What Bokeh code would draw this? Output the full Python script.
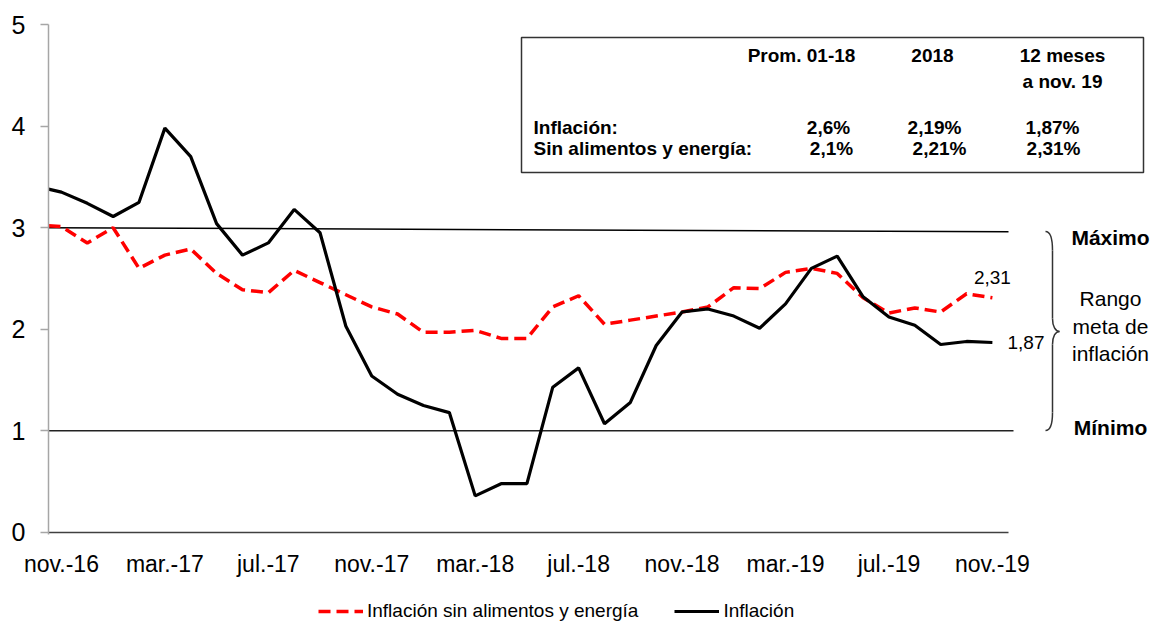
import numpy as np
from bokeh.plotting import figure
from bokeh.layouts import column
from bokeh.models import Range1d, FixedTicker, SingleIntervalTicker, Legend, LegendItem
from bokeh.core.properties import value
from bokeh.embed import file_html
from bokeh.resources import INLINE

# ---------------- data ----------------
tick_labels = ["nov.-16", "mar.-17", "jul.-17", "nov.-17", "mar.-18",
               "jul.-18", "nov.-18", "mar.-19", "jul.-19", "nov.-19"]
# month index: -0.5 is the half-step start of the series, 0 = nov.-16 ... 36 = nov.-19
inflacion = [3.38,
             3.35, 3.24,
             3.11, 3.25, 3.98, 3.70, 3.04, 2.73, 2.85, 3.18, 2.95, 2.03, 1.54, 1.36,
             1.25, 1.18, 0.36, 0.48, 0.48, 1.43, 1.62, 1.07, 1.28, 1.84, 2.17, 2.20,
             2.13, 2.01, 2.25, 2.60, 2.72, 2.32, 2.12, 2.04, 1.85, 1.88, 1.87]
sin_alim = [3.02,
            3.01, 2.85,
            3.00, 2.60, 2.73, 2.79, 2.55, 2.39, 2.36, 2.58, 2.46, 2.34, 2.22, 2.15,
            1.97, 1.97, 1.99, 1.91, 1.91, 2.22, 2.33, 2.05, 2.09, 2.13, 2.17, 2.22,
            2.41, 2.40, 2.56, 2.60, 2.55, 2.31, 2.16, 2.21, 2.17, 2.35, 2.31]
x_idx = [-0.5] + list(range(37))
rango_max = [3.0, 2.96]
rango_min = [1.0, 1.0]
serie_nombres = ["Inflación sin alimentos y energía", "Inflación"]

tabla_cols1 = ["Prom. 01-18", "2018", "12 meses"]
tabla_cols2 = ["", "", "a nov. 19"]
tabla_rows = ["Inflación:", "Sin alimentos y energía:"]
tabla_vals = [["2,6%", "2,19%", "1,87%"],
              ["2,1%", "2,21%", "2,31%"]]

# ---------------- geometry helpers (reference pixels -> data) ----------------
W = 1152
H_MAIN, H_LEG = 600, 23
FRAME_LEFT = 48
FRAME_TOP = 24
KY = 101.6
X_START = -0.5
KX = 25.86
X_END = X_START + (W - FRAME_LEFT) / KX
Y_START, Y_END = -0.02, 5.0
FRAME_BOTTOM = FRAME_TOP + (Y_END - Y_START) * KY


def dx(px):
    return X_START + (px - FRAME_LEFT) / KX


def dy(py):
    return Y_END - (py - FRAME_TOP) / KY


FONT = "Liberation Sans"
RED_STYLE = dict(line_color="#ff0000", line_width=3.5, line_dash="12 6")
BLK_STYLE = dict(line_color="black", line_width=3.2)

p = figure(width=W, height=H_MAIN, output_backend="svg", toolbar_location=None,
           x_range=Range1d(X_START, X_END), y_range=Range1d(Y_START, Y_END),
           min_border_left=FRAME_LEFT, min_border_top=FRAME_TOP, min_border_right=0,
           min_border_bottom=int(round(H_MAIN - FRAME_BOTTOM)),
           background_fill_color="white", border_fill_color="white")
p.outline_line_color = None
p.xgrid.visible = False
p.ygrid.visible = False

# y axis
p.yaxis.ticker = SingleIntervalTicker(interval=1)
p.yaxis.axis_line_color = "#a6a6a6"
p.yaxis.axis_line_width = 1.5
p.yaxis.major_tick_line_color = "#a6a6a6"
p.yaxis.major_tick_line_width = 1.5
p.yaxis.major_tick_out = 8
p.yaxis.major_tick_in = 0
p.yaxis.minor_tick_line_color = None
p.yaxis.major_label_standoff = 15
p.yaxis.major_label_text_font = FONT
p.yaxis.major_label_text_font_size = "25px"
p.yaxis.major_label_text_color = "black"

# x axis
p.xaxis.ticker = FixedTicker(ticks=list(range(0, 37, 4)))
p.xaxis.major_label_overrides = {i * 4: lab for i, lab in enumerate(tick_labels)}
p.xaxis.axis_line_color = None
p.xaxis.major_tick_line_color = None
p.xaxis.minor_tick_line_color = None
p.xaxis.major_tick_out = 0
p.xaxis.major_label_standoff = 16
p.xaxis.major_label_text_font = FONT
p.xaxis.major_label_text_font_size = "23px"
p.xaxis.major_label_text_color = "black"

# baseline of the x axis (only under the data part)
p.segment(x0=[X_START], y0=[0], x1=[dx(1008)], y1=[0], line_color="#404040", line_width=1.5)

# target range lines
p.segment(x0=[X_START], y0=[rango_max[0]], x1=[dx(1008)], y1=[rango_max[1]],
          line_color="black", line_width=1.5)
p.segment(x0=[X_START], y0=[rango_min[0]], x1=[dx(1013)], y1=[rango_min[1]],
          line_color="#222222", line_width=1.5)

# series
p.line(x_idx, sin_alim, **RED_STYLE)
p.line(x_idx, inflacion, **BLK_STYLE)

# end value labels
p.text(x=[x_idx[-1]], y=[dy(277)], text=[f"{sin_alim[-1]:.2f}".replace(".", ",")],
       text_font=value(FONT), text_font_size="19px", text_align="center",
       text_baseline="middle", text_color="black")
p.text(x=[dx(1007)], y=[inflacion[-1]], text=[f"{inflacion[-1]:.2f}".replace(".", ",")],
       text_font=value(FONT), text_font_size="19px", text_align="left",
       text_baseline="middle", text_color="black")

# brace
bx = [(1045, 231, 1052, 250, 1050, 231, 1052, 238),
      (1052, 318, 1059, 331, 1052, 326, 1055, 331),
      (1059, 331, 1052, 344, 1055, 331, 1052, 336),
      (1052, 412, 1045, 430, 1052, 424, 1050, 430)]
p.bezier(x0=[dx(b[0]) for b in bx], y0=[dy(b[1]) for b in bx],
         x1=[dx(b[2]) for b in bx], y1=[dy(b[3]) for b in bx],
         cx0=[dx(b[4]) for b in bx], cy0=[dy(b[5]) for b in bx],
         cx1=[dx(b[6]) for b in bx], cy1=[dy(b[7]) for b in bx],
         line_color="#333333", line_width=1.5)
p.segment(x0=[dx(1052), dx(1052)], y0=[dy(250), dy(344)],
          x1=[dx(1052), dx(1052)], y1=[dy(318), dy(412)],
          line_color="#333333", line_width=1.5)

# range annotations
p.text(x=[dx(1110)], y=[dy(237)], text=["Máximo"], text_font=value(FONT),
       text_font_size="21px", text_font_style="bold", text_align="center",
       text_baseline="middle", text_color="black")
p.text(x=[dx(1110)], y=[dy(427)], text=["Mínimo"], text_font=value(FONT),
       text_font_size="21px", text_font_style="bold", text_align="center",
       text_baseline="middle", text_color="black")
p.text(x=[dx(1110)] * 3, y=[dy(298), dy(326), dy(353)], text=["Rango", "meta de", "inflación"],
       text_font=value(FONT), text_font_size="21px", text_align="center",
       text_baseline="middle", text_color="black")

# table box
p.quad(left=[dx(521)], right=[dx(1143)], top=[dy(37)], bottom=[dy(172)],
       fill_color="white", line_color="#333333", line_width=1.5)
col_cx = [801, 932, 1062]
val_cx = [[828, 934, 1052], [831, 939, 1053]]
p.text(x=[dx(c) for c in col_cx], y=[dy(55)] * 3, text=tabla_cols1,
       text_font=value(FONT), text_font_size="19px", text_font_style="bold",
       text_align="center", text_baseline="middle", text_color="black")
p.text(x=[dx(col_cx[2])], y=[dy(81)], text=[tabla_cols2[2]],
       text_font=value(FONT), text_font_size="19px", text_font_style="bold",
       text_align="center", text_baseline="middle", text_color="black")
row_y = [127, 148]
p.text(x=[dx(533)] * 2, y=[dy(v) for v in row_y], text=tabla_rows,
       text_font=value(FONT), text_font_size="19px", text_font_style="bold",
       text_align="left", text_baseline="middle", text_color="black")
for ri, row in enumerate(tabla_vals):
    p.text(x=[dx(c) for c in val_cx[ri]], y=[dy(row_y[ri])] * 3, text=row,
           text_font=value(FONT), text_font_size="19px", text_font_style="bold",
           text_align="center", text_baseline="middle", text_color="black")

# ---------------- legend strip below the chart ----------------
pl = figure(width=W, height=H_LEG, output_backend="svg", toolbar_location=None,
            x_range=Range1d(0, 1), y_range=Range1d(0, 1),
            min_border=0, background_fill_color="white", border_fill_color="white")
pl.outline_line_color = None
pl.xgrid.visible = False
pl.ygrid.visible = False
pl.xaxis.visible = False
pl.yaxis.visible = False
# legend-only renderers (their points lie outside the strip's visible range)
lr = pl.line(x=[5, 6], y=[5, 5], **RED_STYLE)
lb = pl.line(x=[5, 6], y=[5, 5], **BLK_STYLE)
legend = Legend(items=[LegendItem(label=serie_nombres[0], renderers=[lr]),
                       LegendItem(label=serie_nombres[1], renderers=[lb])],
                orientation="horizontal", location=(318 - FRAME_LEFT, 1),
                glyph_width=45, glyph_height=20, label_height=20, label_standoff=4,
                spacing=36, padding=0, margin=0,
                label_text_font=FONT, label_text_font_size="19px",
                label_text_color="black",
                border_line_color=None, background_fill_alpha=0)
pl.add_layout(legend, "center")

layout = column(p, pl, spacing=0)
open("out.html", "w").write(file_html(layout, INLINE))
